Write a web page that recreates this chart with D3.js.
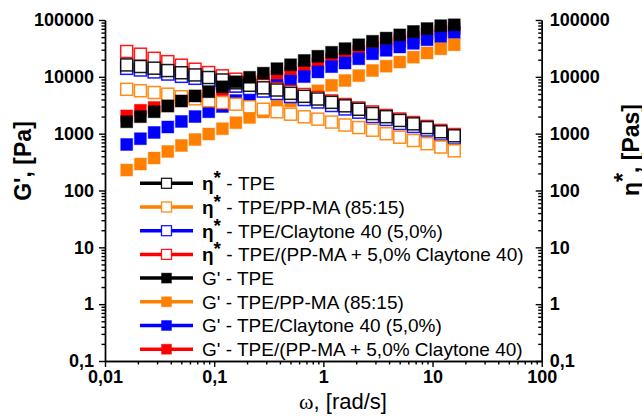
<!DOCTYPE html>
<html>
<head>
<meta charset="utf-8">
<script src="https://cdn.jsdelivr.net/npm/d3@7"></script>
<style>
  body { margin: 0; background: #fff; }
  svg { font-family: "Liberation Sans", Arial, sans-serif; }
</style>
</head>
<body>
<svg id="chart"></svg>
<script>
// angular frequency, rad/s
const omega = [0.0158, 0.0211, 0.0282, 0.0376, 0.0501, 0.0668, 0.0891, 0.119, 0.158, 0.211, 0.282, 0.376,
               0.501, 0.668, 0.891, 1.19, 1.58, 2.11, 2.82, 3.76, 5.01, 6.68, 8.91, 11.9, 15.8]

// storage modulus G', Pa
const gTPE     = [1620, 1990, 2430, 3070, 3760, 4600, 5470, 6680, 8180, 9810, 11600, 13900, 16300, 19400, 23000, 27000, 31300, 36600, 42200, 48000, 54700, 62800, 70600, 79400, 82300]
const gPPMA    = [229, 292, 373, 486, 619, 789, 986, 1220, 1560, 1930, 2410, 3010, 3760, 4640, 5680, 7100, 8620, 10500, 12900, 15400, 18200, 22200, 26300, 31100, 36600]
const gClay    = [645, 815, 1050, 1310, 1640, 2000, 2430, 3010, 3830, 4690, 5630, 7040, 8450, 10100, 12200, 15100, 17500, 20800, 25500, 29300, 33500, 38900, 45000, 50800, 60300]
const gPPMAClay = [2050, 2580, 2890, 3070, 3790, 4600, 5520, 5910, 6760, 7790, 8800, 9930, 11700, 13900, 16800, 20200, 23300, 27900, 32800, 37800, 42700, 49200, 56700, 64000, 70900]

// complex viscosity eta*, Pa s
const etaTPE     = [16200, 15200, 14200, 12900, 11800, 10800, 9730, 8800, 7850, 7100, 6410, 5860, 5130, 4540, 4070, 3560, 3090, 2690, 2260, 1990, 1710, 1490, 1280, 1080, 917]
const etaPPMA    = [6030, 5700, 5300, 4950, 4470, 4110, 3790, 3530, 3300, 2970, 2690, 2430, 2200, 1980, 1800, 1600, 1420, 1280, 1150, 998, 866, 758, 666, 583, 499]
const etaClay    = [14100, 13200, 12200, 11200, 10200, 9420, 8620, 7790, 6890, 6230, 5630, 5090, 4510, 3990, 3610, 3130, 2720, 2390, 2000, 1780, 1510, 1340, 1160, 986, 839]
const etaPPMAClay = [27900, 25000, 21200, 18500, 16000, 13600, 11900, 10400, 9090, 7950, 7040, 6230, 5520, 4890, 4330, 3760, 3260, 2830, 2410, 2090, 1810, 1570, 1340, 1140, 966]

const sampleNames = ["TPE", "TPE/PP-MA (85:15)", "TPE/Claytone 40 (5,0%)", "TPE/(PP-MA + 5,0% Claytone 40)"]
const colors = ["#000000", "#ff8000", "#0000ff", "#ff0000"]

const xTicks = [0.01, 0.1, 1, 10, 100]
const yTicks = [0.1, 1, 10, 100, 1000, 10000, 100000]

const width = 642, height = 416
const margin = {top: 20, right: 100.3, bottom: 55, left: 105}

const svg = d3.select("#chart").attr("width", width).attr("height", height)

const x = d3.scaleLog().domain([0.01, 100]).range([margin.left, width - margin.right])
const y = d3.scaleLog().domain([0.1, 100000]).range([height - margin.bottom, margin.top])

const fmt = d => String(d).replace(".", ",")

// minor ticks for log axes
function minors(domain) {
  const out = []
  for (let e = Math.log10(domain[0]); e < Math.log10(domain[1]); e++)
    for (let m = 2; m <= 9; m++) out.push(m * Math.pow(10, e))
  return out
}

function styleAxis(g) {
  g.selectAll("path, line").attr("stroke", "#000").attr("stroke-width", 1.4)
  g.selectAll("text").attr("font-weight", "bold").attr("font-size", "18px").attr("fill", "#000")
}

// x axis
svg.append("g").attr("transform", `translate(0,${y(0.1)})`)
  .call(d3.axisBottom(x).tickValues(minors(x.domain())).tickSize(3.5).tickFormat("").tickSizeOuter(0))
  .call(styleAxis)
svg.append("g").attr("transform", `translate(0,${y(0.1)})`)
  .call(d3.axisBottom(x).tickValues(xTicks).tickSize(6).tickFormat(fmt).tickSizeOuter(0).tickPadding(3))
  .call(styleAxis)

// left axis
svg.append("g").attr("transform", `translate(${x(0.01)},0)`)
  .call(d3.axisLeft(y).tickValues(minors(y.domain())).tickSize(3.5).tickFormat("").tickSizeOuter(0))
  .call(styleAxis)
svg.append("g").attr("transform", `translate(${x(0.01)},0)`)
  .call(d3.axisLeft(y).tickValues(yTicks).tickSize(6).tickFormat(fmt).tickSizeOuter(0).tickPadding(5))
  .call(styleAxis)

// right axis, ticks point inward
svg.append("g").attr("transform", `translate(${x(100)},0)`)
  .call(d3.axisLeft(y).tickValues(minors(y.domain())).tickSize(3.5).tickFormat("").tickSizeOuter(0))
  .call(styleAxis)
svg.append("g").attr("transform", `translate(${x(100)},0)`)
  .call(d3.axisLeft(y).tickValues(yTicks).tickSize(6).tickFormat("").tickSizeOuter(0))
  .call(styleAxis)
svg.append("g").selectAll("text").data(yTicks).enter().append("text")
  .attr("x", x(100) + 8).attr("y", d => y(d)).attr("dy", "0.35em")
  .attr("font-weight", "bold").attr("font-size", "18px")
  .text(fmt)

// axis titles
svg.append("text")
  .attr("transform", `translate(31,161) rotate(-90)`)
  .attr("text-anchor", "middle").attr("font-weight", "bold").attr("font-size", "23px")
  .text("G', [Pa]")

const rt = svg.append("text")
  .attr("transform", `translate(638.5,150) rotate(-90)`)
  .attr("text-anchor", "middle").attr("font-weight", "bold").attr("font-size", "23px")
rt.append("tspan").text("η")
rt.append("tspan").attr("dy", -8).text("*")
rt.append("tspan").attr("dy", 8).text(", [Pas]")

const xt = svg.append("text")
  .attr("x", 343).attr("y", 409)
  .attr("text-anchor", "middle").attr("font-size", "22px")
xt.append("tspan").attr("font-family", "'Liberation Serif', serif").text("ω")
xt.append("tspan").text(", [rad/s]")

// markers
const size = 12
const plot = svg.append("g")

function drawSeries(values, color, open) {
  plot.append("g").selectAll("rect")
    .data(omega.map((w, i) => [w, values[i]]))
    .enter().append("rect")
    .attr("x", d => x(d[0]) - size / 2)
    .attr("y", d => y(d[1]) - size / 2)
    .attr("width", size).attr("height", size)
    .attr("fill", open ? "#fff" : color)
    .attr("stroke", color)
    .attr("stroke-opacity", open ? 0.9 : 0.4)
    .attr("stroke-width", open ? 1.5 : 1)
}

drawSeries(gPPMAClay, colors[3], false)
drawSeries(gClay, colors[2], false)
drawSeries(gPPMA, colors[1], false)
drawSeries(etaPPMAClay, colors[3], true)
drawSeries(etaClay, colors[2], true)
drawSeries(etaTPE, colors[0], true)
drawSeries(etaPPMA, colors[1], true)
drawSeries(gTPE, colors[0], false)

// legend
const legendItems = []
sampleNames.forEach((n, i) => legendItems.push({kind: "eta", name: n, color: colors[i]}))
sampleNames.forEach((n, i) => legendItems.push({kind: "g", name: n, color: colors[i]}))

const legend = svg.append("g").attr("transform", "translate(140,183.3)")
const rows = legend.selectAll("g").data(legendItems).enter().append("g")
  .attr("transform", (d, i) => `translate(0,${i * 23.7})`)

rows.append("line")
  .attr("x1", 0).attr("x2", 53).attr("y1", 0).attr("y2", 0)
  .attr("stroke", d => d.color).attr("stroke-width", 3.5)
rows.append("rect")
  .attr("x", 21.5).attr("y", -5).attr("width", 10).attr("height", 10)
  .attr("fill", d => d.kind === "eta" ? "#fff" : d.color)
  .attr("stroke", d => d.color).attr("stroke-width", d => d.kind === "eta" ? 1.3 : 1)
  .attr("stroke-opacity", d => d.kind === "eta" ? 0.9 : 0.4)

const labels = rows.append("text")
  .attr("x", 62).attr("y", 0).attr("dy", "0.36em")
  .attr("font-size", "19px")
labels.each(function(d) {
  const t = d3.select(this)
  if (d.kind === "eta") {
    t.append("tspan").attr("font-weight", "bold").text("η")
    t.append("tspan").attr("font-weight", "bold").attr("dy", -6).text("*")
    t.append("tspan").attr("dy", 6).text(" - " + d.name)
  } else {
    t.append("tspan").text("G' - " + d.name)
  }
})
</script>
</body>
</html>
